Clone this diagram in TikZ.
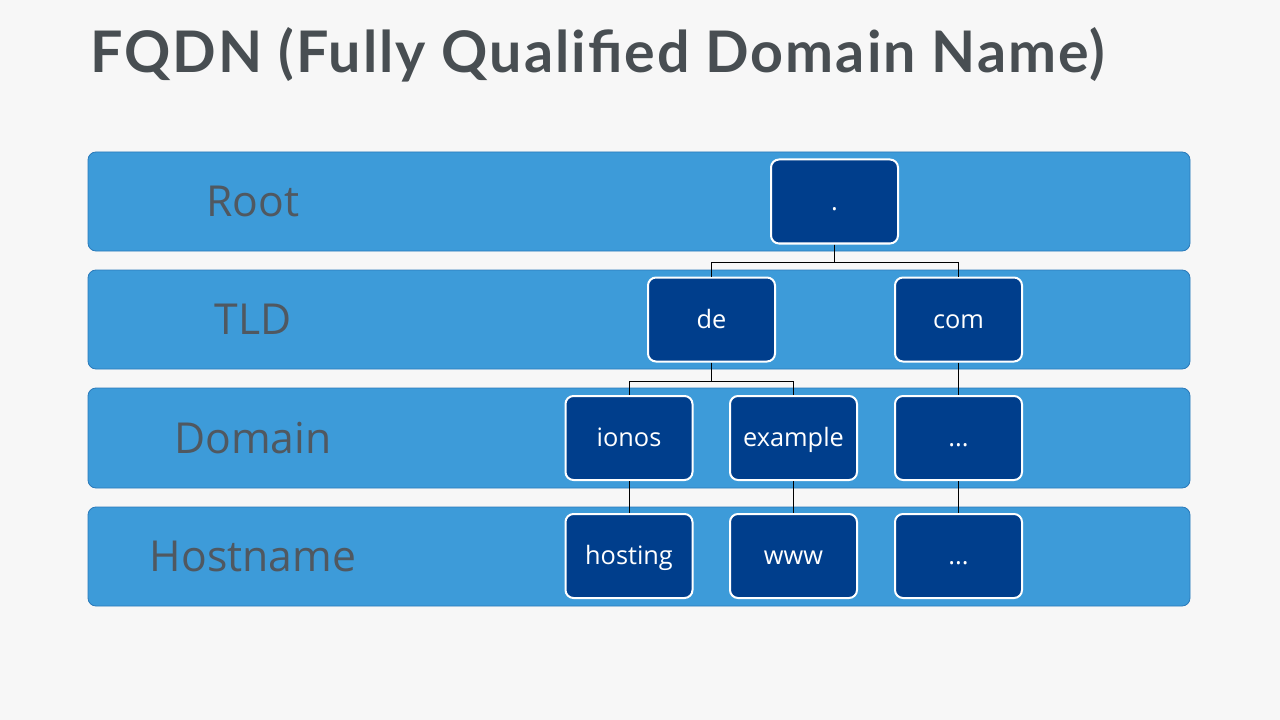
\documentclass[tikz,border=0pt]{standalone}
\usepackage{fontspec}
\setmainfont{Open Sans}
\newfontfamily\titlefont[LetterSpace=3.5]{Lato}
\usetikzlibrary{positioning}
\definecolor{bggray}{RGB}{247,247,247}
\definecolor{bandblue}{RGB}{61,155,217}
\definecolor{bandedge}{RGB}{42,122,186}
\definecolor{boxblue}{RGB}{0,62,140}
\definecolor{labelgray}{RGB}{80,88,96}
\definecolor{titlegray}{RGB}{72,78,82}

\tikzset{
	band/.style={draw=bandedge, fill=bandblue, line width=0.6pt, rounded corners=6pt},
	lvl/.style={inner sep=0pt, text=labelgray, font=\fontsize{32}{38}\selectfont},
	dom/.style={draw=white, fill=boxblue, text=white, line width=1.5pt, rounded corners=6pt,
		minimum width=95.25pt, minimum height=63pt, inner sep=0pt, text height=12.8pt, text depth=0pt,
		font=\fontsize{19}{22}\selectfont},
	link/.style={draw=black, line width=0.75pt}
}

\begin{document}
\begin{tikzpicture}[x=0.75pt,y=0.75pt,yscale=-1,xscale=1]
	%set diagram to 1280 x 720
	\fill[bggray] (0,0) rectangle (1280,720);
	\useasboundingbox (0,0) rectangle (1280,720);
	
	% Title
	\node[anchor=base west, inner sep=0pt, text=titlegray, font=\titlefont\bfseries\fontsize{43}{50}\selectfont] (title) at (90,73) {FQDN (Fully Qualified Domain Name)};
	
	%Bands
	\foreach \ytop/\ybot in {152/251, 270/369, 388/488, 507/606}
		\draw[band] (88,\ytop) rectangle (1190,\ybot);
	
	% Level labels
	\node[lvl] (lroot) at (253,201) {Root};
	\node[lvl] (ltld) at (253,319) {TLD};
	\node[lvl] (ldomain) at (253,438) {Domain};
	\node[lvl] (lhost) at (253,556) {Hostname};
	
	% Domain boxes
	\node[dom] (root) at (834.5,201.5) {.};
	\node[dom] (de) at (711.5,319.5) {de};
	\node[dom] (com) at (958.5,319.5) {com};
	\node[dom] (ionos) at (629,438) {ionos};
	\node[dom] (example) at (793.5,438) {example};
	\node[dom] (moredom) at (958.5,438) {...};
	\node[dom] (hosting) at (629,556) {hosting};
	\node[dom] (www) at (793.5,556) {www};
	\node[dom] (morehost) at (958.5,556) {...};
	
	% Links
	\draw[link] (root.south) -- ++(0,18) -| (de.north);
	\draw[link] (root.south) -- ++(0,18) -| (com.north);
	\draw[link] (de.south) -- ++(0,19) -| (ionos.north);
	\draw[link] (de.south) -- ++(0,19) -| (example.north);
	\draw[link] (com.south) -- (moredom.north);
	\draw[link] (ionos.south) -- (hosting.north);
	\draw[link] (example.south) -- (www.north);
	\draw[link] (moredom.south) -- (morehost.north);
\end{tikzpicture}
\end{document}
